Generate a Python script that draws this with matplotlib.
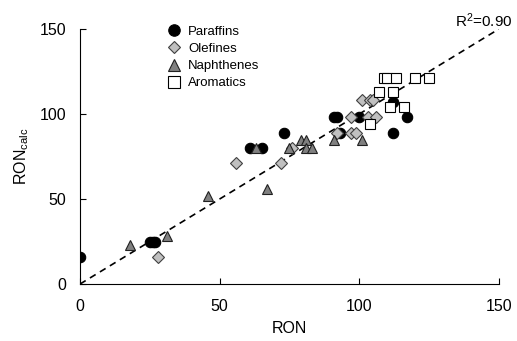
import numpy as np
import matplotlib.pyplot as plt

plt.rcParams['font.family'] = ['Liberation Sans', 'DejaVu Sans']

# Values (RON, RON calc)
par_x = [0, 25, 26, 27, 61, 65, 73, 91, 92, 93, 100, 112, 117, 112]
par_y = [16, 25, 25, 25, 80, 80, 89, 98, 98, 89, 98, 107, 98, 89]

ole_x = [28, 56, 72, 76, 92, 97, 99, 97, 103, 106, 101, 104, 105]
ole_y = [16, 71, 71, 80, 89, 89, 89, 98, 98, 98, 108, 108, 108]

nap_x = [18, 31, 46, 63, 67, 75, 79, 81, 81, 83, 91, 101]
nap_y = [23, 28, 52, 80, 56, 80, 85, 85, 80, 80, 85, 85]

aro_x = [104, 107, 109, 110, 111, 112, 113, 116, 120, 125]
aro_y = [94, 113, 121, 121, 104, 113, 121, 104, 121, 121]

fig = plt.figure(figsize=(5.17, 3.41), dpi=100)
ax = fig.add_axes([0.1547, 0.167, 0.8103, 0.748])

ax.plot([0, 150], [0, 150], ls=(0, (4, 3)), color='black', lw=1.2, zorder=1)

ms = 7.5
ax.plot(par_x, par_y, 'o', ms=ms, mfc='black', mec='black', mew=0.8, label='Paraffins', zorder=3)
ax.plot(ole_x, ole_y, 'D', ms=ms - 1.5, mfc='#c0c0c0', mec='#404040', mew=0.8, label='Olefines', zorder=3)
ax.plot(nap_x, nap_y, '^', ms=ms, mfc='#808080', mec='#202020', mew=0.8, label='Naphthenes', zorder=3)
ax.plot(aro_x, aro_y, 's', ms=ms, mfc='white', mec='black', mew=0.8, label='Aromatics', zorder=3)

ax.set_xlim(0, 150)
ax.set_ylim(0, 150)
ax.set_xticks([0, 50, 100, 150])
ax.set_yticks([0, 50, 100, 150])
ax.tick_params(direction='in', length=4, labelsize=11.5)
ax.tick_params(axis='x', pad=11)
ax.tick_params(axis='y', pad=10)
ax.spines['top'].set_visible(False)
ax.spines['right'].set_visible(False)

ax.set_xlabel('RON', fontsize=11.5, labelpad=5)
ax.set_ylabel(r'RON$\mathregular{_{calc}}$', fontsize=11.5, labelpad=6)

fig.text(513 / 517, 1 - 27 / 341, r'R$\mathregular{^2}$=0.90', ha='right', va='baseline', fontsize=11)

ax.legend(loc='upper left', bbox_to_anchor=(0.18, 1.05), frameon=False, fontsize=9.5,
          handletextpad=0.4, labelspacing=0.38, borderpad=0.2, handlelength=1.4,
          markerscale=1.1)

fig.savefig('out.png', dpi=100)
